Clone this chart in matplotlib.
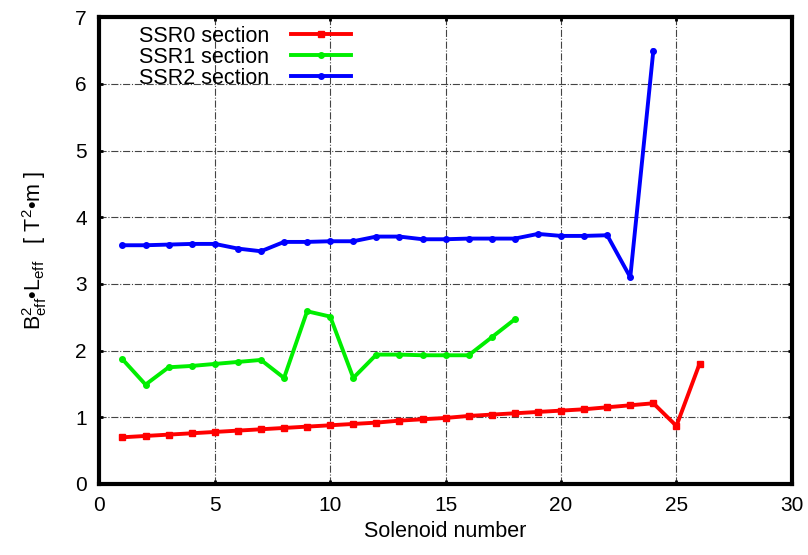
# B^2 L vs solenoid number for the three SSR sections
import numpy as np
import matplotlib.pyplot as plt

plt.rcParams['font.family'] = ['Liberation Sans', 'DejaVu Sans']
plt.rcParams['mathtext.fontset'] = 'custom'
plt.rcParams['mathtext.rm'] = 'Liberation Sans'

ssr0_x = list(range(1, 27))
ssr0_y = [0.70, 0.72, 0.74, 0.76, 0.78, 0.80, 0.82, 0.84, 0.86, 0.88, 0.90, 0.92, 0.95,
          0.97, 0.99, 1.02, 1.04, 1.06, 1.08, 1.10, 1.12, 1.15, 1.18, 1.21, 0.87, 1.80]

ssr1_x = list(range(1, 19))
ssr1_y = [1.87, 1.49, 1.75, 1.77, 1.80, 1.83, 1.86, 1.59, 2.59, 2.51, 1.59, 1.94,
          1.94, 1.93, 1.93, 1.93, 2.20, 2.47]

ssr2_x = list(range(1, 25))
ssr2_y = [3.58, 3.58, 3.59, 3.60, 3.60, 3.53, 3.49, 3.63, 3.63, 3.64, 3.64, 3.71,
          3.71, 3.67, 3.67, 3.68, 3.68, 3.68, 3.75, 3.72, 3.72, 3.73, 3.10, 6.50]

fig = plt.figure(figsize=(8.08, 5.55), dpi=100)
ax = fig.add_axes([0.123, 0.128, 0.857, 0.841])

ax.plot(ssr0_x, ssr0_y, color='red', lw=2.8, marker='s', ms=4, label='SSR0 section')
ax.plot(ssr1_x, ssr1_y, color='#00ee00', lw=2.8, marker='o', ms=4, label='SSR1 section')
ax.plot(ssr2_x, ssr2_y, color='blue', lw=2.8, marker='o', ms=4, label='SSR2 section')

ax.set_xlim(0, 30)
ax.set_ylim(0, 7)
ax.set_xticks(np.arange(0, 31, 5))
ax.set_yticks(np.arange(0, 8, 1))
ax.tick_params(direction='in', top=True, right=True, labelsize=15, length=3, width=2, pad=9)
ax.grid(True, color='#444444', linestyle='-.', linewidth=0.8)
for s in ax.spines.values():
    s.set_linewidth(3)

ax.set_xlabel('Solenoid number', fontsize=15.5, labelpad=4)
ax.set_ylabel(r'$\mathrm{B^2_{eff}}$•$\mathrm{L_{eff}}$   [ $\mathrm{T^2}$•m ]', fontsize=15.5, labelpad=19)

ax.legend(loc='upper left', frameon=False, markerfirst=False, fontsize=15.5,
          handlelength=2.8, handletextpad=1.0, labelspacing=0.0, borderaxespad=0.0,
          bbox_to_anchor=(0.045, 1.0))

fig.savefig('out.png', dpi=100)
